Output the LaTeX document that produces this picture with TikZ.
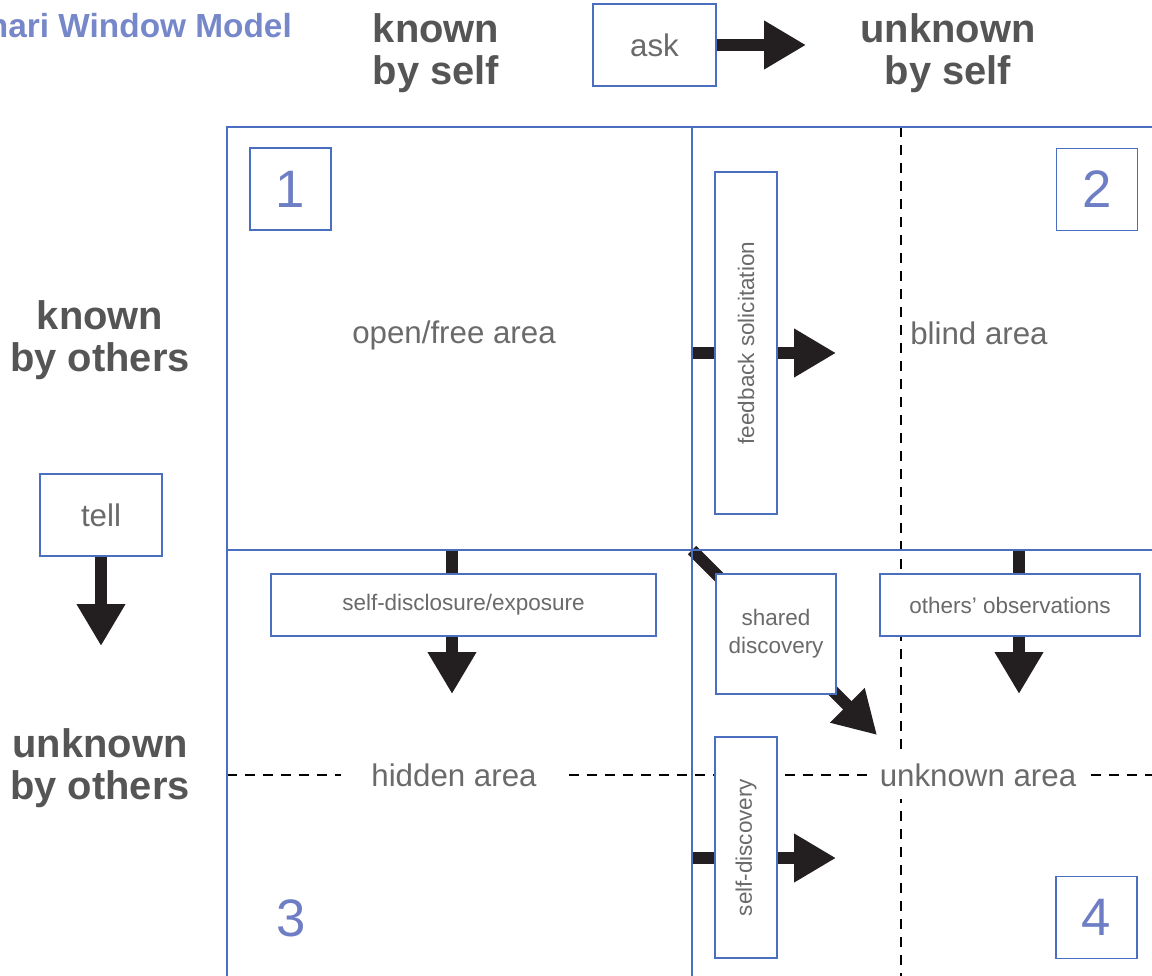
\documentclass[tikz,border=0pt]{standalone}
\usepackage{fontspec}
\setmainfont{Liberation Sans}
\usetikzlibrary{arrows.meta}

\definecolor{gridblue}{HTML}{4A6FC1}
\definecolor{numblue}{HTML}{6E7EC4}
\definecolor{titleblue}{HTML}{7687CA}
\definecolor{headgray}{HTML}{555555}
\definecolor{labelgray}{HTML}{6A6A6A}
\definecolor{arrowblack}{HTML}{231F20}

\tikzset{
  frame/.style={draw=gridblue, line width=0.04cm},
  sz/.style 2 args={minimum width=#1*0.02cm, minimum height=#2*0.02cm},
  box/.style={draw=gridblue, line width=0.7pt, fill=white, inner sep=0pt, text=labelgray},
  boxtext/.style={font=\fontsize{12.8}{16}\selectfont},
  numbox/.style={box, sz={81}{82}, text=numblue, font=\fontsize{30}{30}\selectfont},
  heading/.style={align=center, text=headgray, font=\bfseries\fontsize{22.7}{23.8}\selectfont},
  area/.style={text=labelgray, font=\fontsize{17.8}{20}\selectfont},
  bigarrow/.style={arrowblack, line width=0.24cm, -{Triangle[length=0.84cm, width=0.92cm]}},
  divider/.style={black, line width=0.04cm, dash pattern=on 0.2cm off 0.16cm}
}

\begin{document}
\begin{tikzpicture}[x=0.02cm, y=-0.02cm]
\useasboundingbox (0,0) rectangle (1152,976);
\clip (0,0) rectangle (1152,976);

% Title, cut at the left edge
\node[anchor=base east, text=titleblue, font=\bfseries\fontsize{19}{20}\selectfont] (title) at (298,38) {Johari Window Model};

% Headings round the window
\node[heading] (kself) at (436,53) {known\\by self};
\node[heading] (uself) at (948,53) {unknown\\by self};
\node[heading] (kothers) at (100,340) {known\\by others};
\node[heading] (uothers) at (100,768) {unknown\\by others};

% ask and tell
\node[box, area, sz={123}{82}] (ask) at (654.5,45) {ask};
\node[box, area, sz={122}{82}] (tell) at (101,515) {tell};
\coordinate (asktip) at (806,45);
\coordinate (telltip) at (101,646);
\draw[bigarrow] (ask.east) -- (asktip);
\draw[bigarrow] (tell.south) -- (telltip);

% Dashed dividers
\coordinate (vtop) at (901,127);
\coordinate (vbot) at (901,980);
\coordinate (hleft) at (227,775);
\coordinate (hright) at (1160,775);
\draw[divider] (vtop) -- (vbot);
\draw[divider] (hleft) -- (hright);

% Arrows between the areas (boxes go on top later)
\coordinate (fbin) at (692,353);
\coordinate (fbtip) at (836,353);
\coordinate (sdin) at (692,858);
\coordinate (sdtip) at (836,858);
\coordinate (discin) at (452,550);
\coordinate (disctip) at (452,694);
\coordinate (obsin) at (1019,550);
\coordinate (obstip) at (1019,694);
\coordinate (corner) at (692,550);
\coordinate (sharedtip) at (877,735);
\draw[bigarrow] (fbin) -- (fbtip);
\draw[bigarrow] (sdin) -- (sdtip);
\draw[bigarrow] (discin) -- (disctip);
\draw[bigarrow] (obsin) -- (obstip);
\draw[bigarrow] (corner) -- (sharedtip);

% The window itself
\draw[frame] (227,127) rectangle (1160,977);
\draw[frame] (692,127) -- (692,977);
\draw[frame] (227,550) -- (1160,550);

% Quadrant numbers
\node[numbox] (one) at (290.5,189) {1};
\node[numbox] (two) at (1097,189.5) {2};
\node[text=numblue, font=\fontsize{30}{30}\selectfont] (three) at (291,918) {3};
\node[numbox] (four) at (1096.5,917.5) {4};

% Area names
\node[area] (open) at (454,335) {open/free area};
\node[area] (blind) at (979,333) {blind area};
\node[area, fill=white, inner xsep=0.6cm, inner ysep=0.25cm] (hidden) at (454,775) {hidden area};
\node[area, fill=white, inner xsep=0.24cm, inner ysep=0.25cm] (unknown) at (978,775) {unknown area};

% Labelled boxes over the arrows
\node[box, boxtext, rotate=90, sz={342}{62}] (feedback) at (746,343) {feedback solicitation};
\node[box, boxtext, sz={385}{62}] (disclosure) at (463.5,605) {self-disclosure/exposure};
\node[box, boxtext, sz={120}{120}, align=center] (shared) at (776,634) {shared\\discovery};
\node[box, boxtext, sz={260}{62}] (observe) at (1010,605) {others' observations};
\node[box, boxtext, rotate=90, sz={221}{62}] (selfdisc) at (746,847.5) {self-discovery};

\end{tikzpicture}
\end{document}
